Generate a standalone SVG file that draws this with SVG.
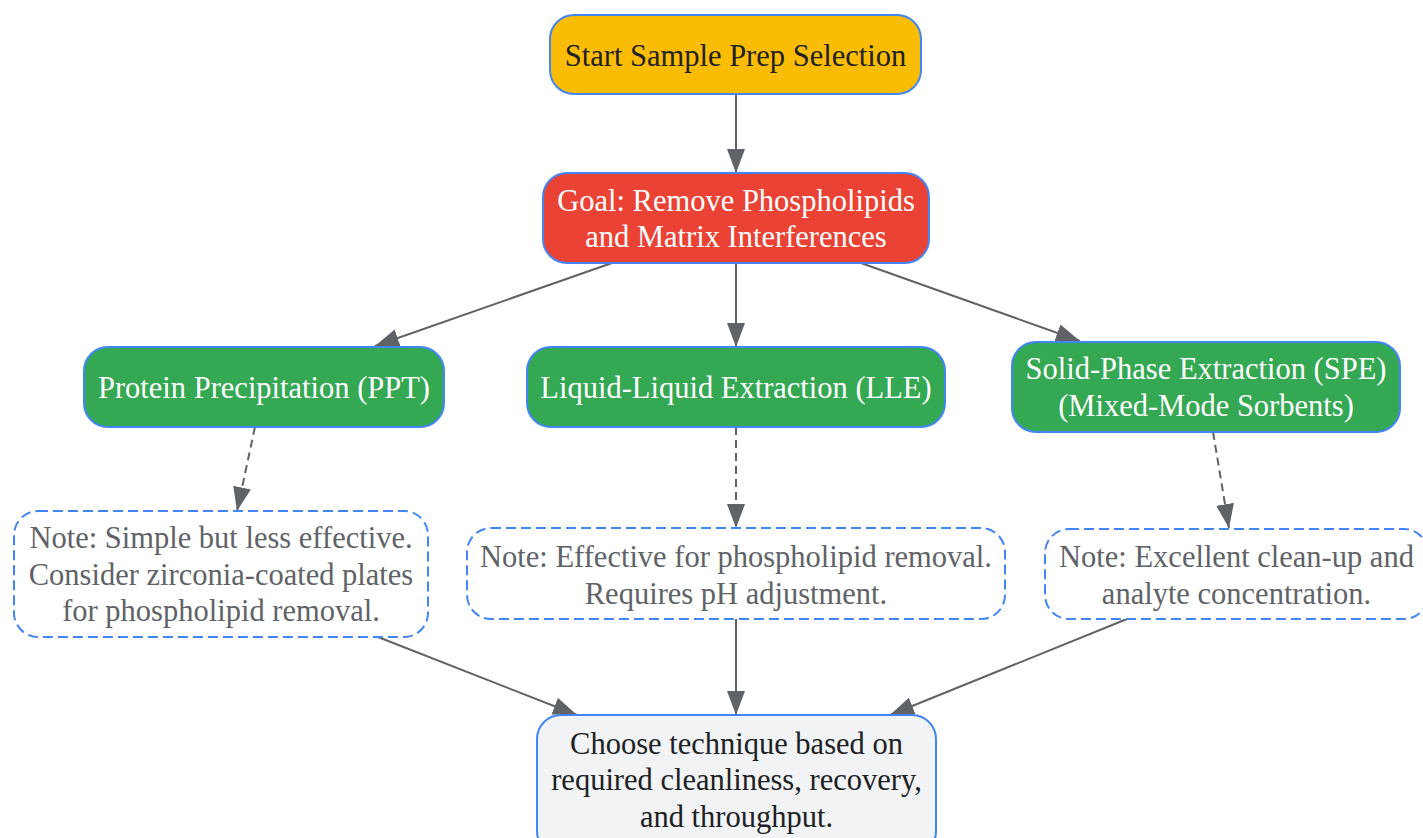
<svg xmlns="http://www.w3.org/2000/svg" width="1423" height="838" viewBox="0 0 1423 838">
<defs>
<marker id="arr" markerUnits="userSpaceOnUse" markerWidth="26" markerHeight="20" refX="24" refY="9" orient="auto">
<path d="M0,0 L24,9 L0,18 z" fill="#5f6368"/>
</marker>
</defs>
<style>
.n{stroke:#4285F4;stroke-width:2}
.note{fill:#ffffff;stroke:#4285F4;stroke-width:2;stroke-dasharray:10 5}
.t{font-family:"Liberation Serif","Times New Roman",serif;font-size:30.5px;text-anchor:middle}
.w{fill:#ffffff}
.d{fill:#202124}
.g{fill:#5f6368}
.e{fill:none;stroke:#5f6368;stroke-width:2;marker-end:url(#arr)}
.dash{stroke-dasharray:8 5}
</style>
<rect width="1423" height="838" fill="#ffffff"/>
<g id="connectors">
<line class="e" x1="736" y1="94" x2="736" y2="173"/>
<line class="e" x1="612" y1="263" x2="375" y2="346"/>
<line class="e" x1="736" y1="263" x2="736" y2="347"/>
<line class="e" x1="861" y1="263" x2="1080" y2="341"/>
<line class="e dash" x1="255" y1="427" x2="237" y2="511"/>
<line class="e dash" x1="736" y1="427" x2="736" y2="528"/>
<line class="e dash" x1="1213" y1="432" x2="1229" y2="528"/>
<line class="e" x1="378" y1="637" x2="577" y2="715"/>
<line class="e" x1="736" y1="619" x2="736" y2="715"/>
<line class="e" x1="1127" y1="619" x2="890" y2="715"/>
</g>
<g id="start">
<rect class="n" x="550" y="15" width="371" height="79" rx="24" fill="#FBBC04"/>
<text class="t d" x="735.5" y="65.5">Start Sample Prep Selection</text>
</g>
<g id="goal">
<rect class="n" x="543" y="173" width="386" height="90" rx="24" fill="#EA4335"/>
<text class="t w" x="736" y="210.5">Goal: Remove Phospholipids</text>
<text class="t w" x="736" y="247">and Matrix Interferences</text>
</g>
<g id="ppt">
<rect class="n" x="84" y="347" width="360" height="80" rx="24" fill="#34A853"/>
<text class="t w" x="264" y="398">Protein Precipitation (PPT)</text>
</g>
<g id="lle">
<rect class="n" x="527" y="347" width="418" height="80" rx="24" fill="#34A853"/>
<text class="t w" x="736" y="398">Liquid-Liquid Extraction (LLE)</text>
</g>
<g id="spe">
<rect class="n" x="1012" y="342" width="388" height="90" rx="24" fill="#34A853"/>
<text class="t w" x="1206" y="379">Solid-Phase Extraction (SPE)</text>
<text class="t w" x="1206" y="416">(Mixed-Mode Sorbents)</text>
</g>
<g id="note-ppt">
<rect class="note" x="14" y="511" width="414" height="126" rx="24"/>
<text class="t g" x="221" y="548">Note: Simple but less effective.</text>
<text class="t g" x="221" y="584.5">Consider zirconia-coated plates</text>
<text class="t g" x="221" y="621">for phospholipid removal.</text>
</g>
<g id="note-lle">
<rect class="note" x="467" y="528" width="538" height="91" rx="24"/>
<text class="t g" x="736" y="567">Note: Effective for phospholipid removal.</text>
<text class="t g" x="736" y="604">Requires pH adjustment.</text>
</g>
<g id="note-spe">
<rect class="note" x="1045" y="529" width="383" height="90" rx="24"/>
<text class="t g" x="1236.5" y="567">Note: Excellent clean-up and</text>
<text class="t g" x="1236.5" y="604">analyte concentration.</text>
</g>
<g id="final">
<rect class="n" x="537" y="715" width="399" height="140" rx="24" fill="#F1F3F4"/>
<text class="t d" x="736.5" y="754">Choose technique based on</text>
<text class="t d" x="736.5" y="790">required cleanliness, recovery,</text>
<text class="t d" x="736.5" y="826.5">and throughput.</text>
</g>
</svg>
